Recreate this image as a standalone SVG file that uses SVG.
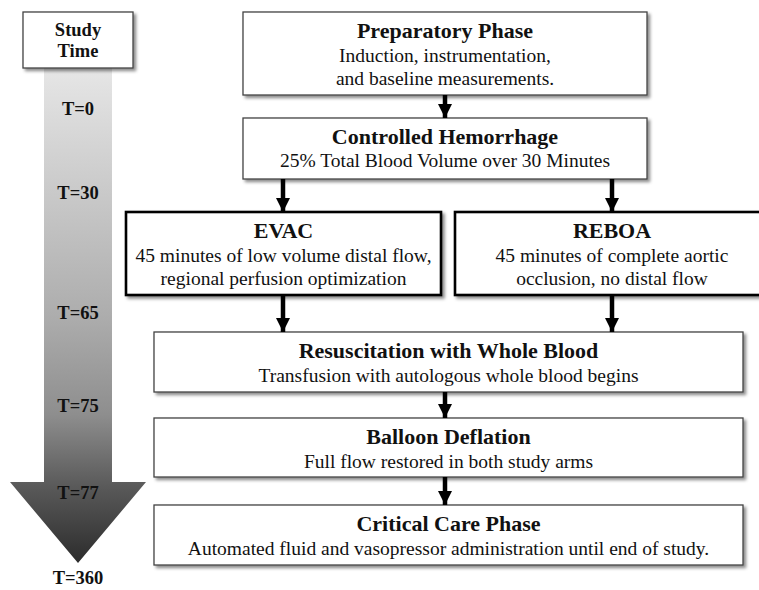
<svg xmlns="http://www.w3.org/2000/svg" width="759" height="590" viewBox="0 0 759 590">
<defs>
  <linearGradient id="tg" x1="0" y1="68" x2="0" y2="563" gradientUnits="userSpaceOnUse">
    <stop offset="0" stop-color="#e6e6e6"/>
    <stop offset="0.5" stop-color="#adadad"/>
    <stop offset="0.7" stop-color="#8e8e8e"/>
    <stop offset="0.85" stop-color="#585858"/>
    <stop offset="1" stop-color="#2c2c2c"/>
  </linearGradient>
  <filter id="sh" x="-5%" y="-10%" width="115%" height="130%">
    <feDropShadow dx="2.5" dy="2.5" stdDeviation="1.5" flood-color="#000" flood-opacity="0.45"/>
  </filter>
  <marker id="ah" markerUnits="userSpaceOnUse" markerWidth="16" markerHeight="14" refX="14" refY="7" orient="auto">
    <path d="M0,0 L14,7 L0,14 Z" fill="#000"/>
  </marker>
</defs>
<style>
  .box { fill: #fff; stroke: #444; stroke-width: 1.3; filter: url(#sh); }
  .tbox { fill: #fff; stroke: #000; stroke-width: 2.6; filter: url(#sh); }
  .title { font-family: "Liberation Serif", "Times New Roman", serif; font-weight: bold; font-size: 22px; fill: #111; text-anchor: middle; }
  .body { font-family: "Liberation Serif", "Times New Roman", serif; font-size: 19.5px; fill: #111; text-anchor: middle; }
  .tl { font-family: "Liberation Serif", "Times New Roman", serif; font-weight: bold; font-size: 18.5px; fill: #111; text-anchor: middle; }
  .con { stroke: #000; stroke-width: 4.5; fill: none; marker-end: url(#ah); }
</style>

<g id="timeline">
  <polygon points="44,68 112,68 112,482 146,482 78,563 10,482 44,482" fill="url(#tg)"/>
  <text class="tl" x="78" y="115">T=0</text>
  <text class="tl" x="78" y="199">T=30</text>
  <text class="tl" x="78" y="319">T=65</text>
  <text class="tl" x="78" y="412">T=75</text>
  <text class="tl" x="78" y="499">T=77</text>
  <text class="tl" x="78" y="584">T=360</text>
</g>

<g id="study-time">
  <rect class="box" x="23" y="12" width="110" height="56"/>
  <text class="tl" x="78" y="36">Study</text>
  <text class="tl" x="78" y="57">Time</text>
</g>

<g id="preparatory">
  <rect class="box" x="243" y="12" width="404" height="83"/>
  <text class="title" x="445" y="38">Preparatory Phase</text>
  <text class="body" x="445" y="62">Induction, instrumentation,</text>
  <text class="body" x="445" y="85">and baseline measurements.</text>
</g>

<g id="hemorrhage">
  <rect class="box" x="243" y="118" width="404" height="61"/>
  <text class="title" x="445" y="144">Controlled Hemorrhage</text>
  <text class="body" x="445" y="167">25% Total Blood Volume over 30 Minutes</text>
</g>

<g id="evac">
  <rect class="tbox" x="126" y="212" width="315" height="83"/>
  <text class="title" x="283.5" y="238">EVAC</text>
  <text class="body" x="283.5" y="262">45 minutes of low volume distal flow,</text>
  <text class="body" x="283.5" y="285">regional perfusion optimization</text>
</g>

<g id="reboa">
  <rect class="tbox" x="455" y="212" width="314" height="83"/>
  <text class="title" x="612" y="238">REBOA</text>
  <text class="body" x="612" y="262">45 minutes of complete aortic</text>
  <text class="body" x="612" y="285">occlusion, no distal flow</text>
</g>

<g id="resuscitation">
  <rect class="box" x="154" y="332" width="589" height="60"/>
  <text class="title" x="448.5" y="358">Resuscitation with Whole Blood</text>
  <text class="body" x="448.5" y="382">Transfusion with autologous whole blood begins</text>
</g>

<g id="balloon">
  <rect class="box" x="154" y="418" width="589" height="59"/>
  <text class="title" x="448.5" y="444">Balloon Deflation</text>
  <text class="body" x="448.5" y="468">Full flow restored in both study arms</text>
</g>

<g id="critical">
  <rect class="box" x="154" y="505" width="589" height="60"/>
  <text class="title" x="448.5" y="531">Critical Care Phase</text>
  <text class="body" x="448.5" y="555">Automated fluid and vasopressor administration until end of study.</text>
</g>

<g id="connectors">
  <line class="con" x1="445" y1="95" x2="445" y2="118"/>
  <line class="con" x1="283" y1="179" x2="283" y2="212"/>
  <line class="con" x1="612" y1="179" x2="612" y2="212"/>
  <line class="con" x1="283" y1="296" x2="283" y2="332"/>
  <line class="con" x1="612" y1="296" x2="612" y2="332"/>
  <line class="con" x1="445" y1="392" x2="445" y2="418"/>
  <line class="con" x1="445" y1="477" x2="445" y2="505"/>
</g>
</svg>
